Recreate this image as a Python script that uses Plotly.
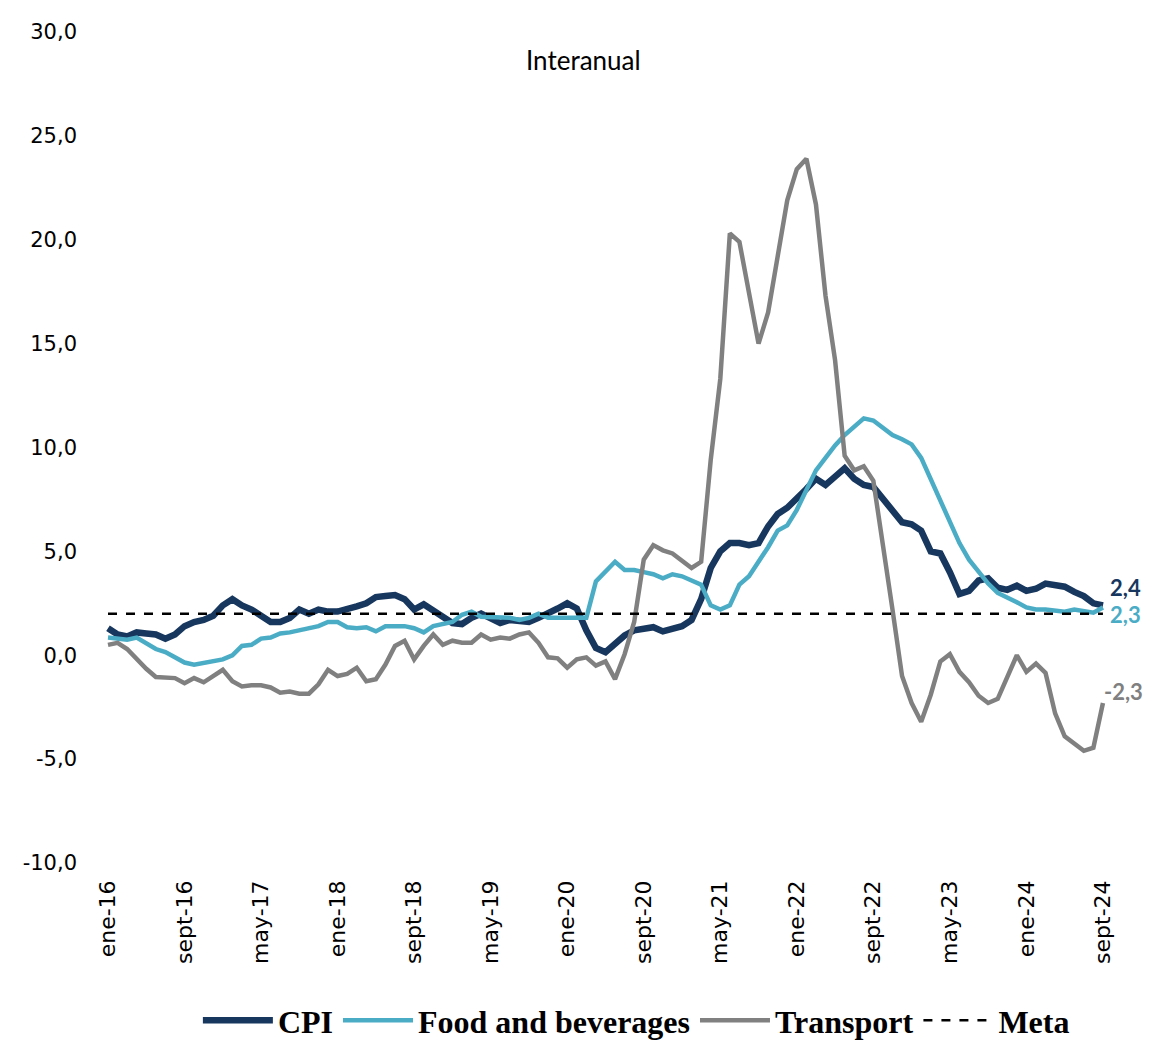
import plotly.graph_objects as go

months_es = ["ene", "feb", "mar", "abr", "may", "jun", "jul", "ago", "sept", "oct", "nov", "dic"]
dates = [f"{months_es[m]}-{str(y)[2:]}" for y in range(2016, 2025) for m in range(12)][:105]

cpi = [1.3, 1.0, 0.9, 1.1, 1.05, 1.0, 0.8, 1.0, 1.4, 1.6, 1.7, 1.9,
       2.4, 2.7, 2.4, 2.2, 1.9, 1.6, 1.6, 1.8, 2.2, 2.0, 2.2, 2.1,
       2.1, 2.2, 2.35, 2.5, 2.8, 2.85, 2.9, 2.7, 2.2, 2.45, 2.15, 1.8,
       1.55, 1.5, 1.8, 2.0, 1.75, 1.55, 1.7, 1.65, 1.6, 1.8, 2.0, 2.25,
       2.5, 2.25, 1.2, 0.35, 0.15, 0.6, 0.95, 1.2, 1.3, 1.35, 1.15, 1.3,
       1.4, 1.7, 2.7, 4.2, 5.0, 5.4, 5.4, 5.3, 5.4, 6.2, 6.8, 7.1,
       7.5, 8.0, 8.5, 8.2, 8.6, 9.0, 8.5, 8.2, 8.1, 7.5, 7.0, 6.4,
       6.3, 6.0, 5.0, 4.9, 4.0, 2.95, 3.1, 3.6, 3.7, 3.25, 3.15, 3.35,
       3.1, 3.2, 3.45, 3.35, 3.3, 3.05, 2.85, 2.5, 2.4]

food = [0.85, 0.8, 0.75, 0.85, 0.6, 0.3, 0.15, -0.1, -0.35, -0.45, -0.35, -0.3,
        -0.2, 0.0, 0.45, 0.5, 0.8, 0.85, 1.05, 1.1, 1.2, 1.3, 1.4, 1.6,
        1.6, 1.35, 1.3, 1.35, 1.15, 1.4, 1.4, 1.4, 1.3, 1.1, 1.4, 1.5,
        1.6, 1.95, 2.1, 1.85, 1.85, 1.8, 1.8, 1.7, 1.8, 2.0, 1.8, 1.8,
        1.8, 1.8, 1.8, 3.55, 4.0, 4.5, 4.1, 4.1, 4.0, 3.9, 3.7, 3.9,
        3.8, 3.6, 3.4, 2.4, 2.2, 2.4, 3.4, 3.8, 4.5, 5.2, 6.0, 6.25,
        7.0, 7.95, 8.9, 9.5, 10.1, 10.6, 11.0, 11.4, 11.3, 10.95, 10.6, 10.4,
        10.15, 9.5, 8.5, 7.4, 6.4, 5.4, 4.6, 4.0, 3.45, 3.0, 2.8, 2.55,
        2.3, 2.2, 2.2, 2.15, 2.1, 2.2, 2.1, 2.05, 2.3]

transport = [0.5, 0.6, 0.3, -0.2, -0.65, -1.05, -1.1, -1.1, -1.35, -1.1, -1.3, -1.0,
             -0.7, -1.25, -1.5, -1.45, -1.45, -1.55, -1.8, -1.75, -1.85, -1.85, -1.4, -0.7,
             -1.0, -0.9, -0.6, -1.25, -1.15, -0.45, 0.45, 0.7, -0.2, 0.45, 1.0, 0.5,
             0.7, 0.6, 0.6, 1.0, 0.75, 0.85, 0.8, 1.0, 1.1, 0.6, -0.1, -0.15,
             -0.6, -0.2, -0.1, -0.5, -0.3, -1.15, 0.05, 1.6, 4.6, 5.3, 5.05, 4.9,
             4.55, 4.2, 4.5, 9.4, 13.3, 20.3, 19.9, 17.3, 15.0, 16.5, 19.3, 21.9,
             23.4, 23.9, 21.7, 17.3, 14.2, 9.6, 8.9, 9.1, 8.4, 5.4, 2.2, -1.0,
             -2.3, -3.2, -1.9, -0.3, 0.05, -0.8, -1.3, -1.95, -2.3, -2.1, -1.0, 0.0,
             -0.8, -0.4, -0.85, -2.8, -3.9, -4.25, -4.6, -4.45, -2.3]

meta = [2.0] * 105

y_ticks = [-10, -5, 0, 5, 10, 15, 20, 25, 30]


def fmt(v):
    return f"{v:.1f}".replace(".", ",")


tick_idx = list(range(0, 105, 8))
tick_text = [dates[i] for i in tick_idx]
x = list(range(105))

C_CPI = "#17375E"
C_FOOD = "#4BACC6"
C_TR = "#808080"

fig = go.Figure()
fig.add_trace(go.Scatter(x=x, y=cpi, name="CPI", mode="lines",
                         line=dict(color=C_CPI, width=6.5)))
fig.add_trace(go.Scatter(x=x, y=food, name="Food and beverages", mode="lines",
                         line=dict(color=C_FOOD, width=4.5)))
fig.add_trace(go.Scatter(x=x, y=transport, name="Transport", mode="lines",
                         line=dict(color=C_TR, width=4.5)))
fig.add_trace(go.Scatter(x=x, y=meta, name="Meta", mode="lines",
                         line=dict(color="black", width=2.5, dash="dash")))

tick_font = "DejaVu Sans, sans-serif"
lab_font = "Lato, sans-serif"
fig.add_annotation(x=x[-1], y=cpi[-1], text=f"<b>{fmt(cpi[-1])}</b>", showarrow=False,
                   xanchor="left", yanchor="middle", xshift=5, yshift=18,
                   font=dict(family=lab_font, size=22, color=C_CPI))
fig.add_annotation(x=x[-1], y=food[-1], text=f"<b>{fmt(food[-1])}</b>", showarrow=False,
                   xanchor="left", yanchor="middle", xshift=5, yshift=-7,
                   font=dict(family=lab_font, size=22, color=C_FOOD))
fig.add_annotation(x=x[-1], y=transport[-1], text=f"<b>{fmt(transport[-1])}</b>", showarrow=False,
                   xanchor="left", yanchor="middle", xshift=-1, yshift=12,
                   font=dict(family=lab_font, size=22, color=C_TR))
fig.add_annotation(xref="paper", yref="paper", x=0.477, y=0.966, text="Interanual",
                   showarrow=False, xanchor="center", yanchor="middle",
                   font=dict(family=lab_font, size=26, color="black"))

fig.update_layout(
    width=1153, height=1048,
    margin=dict(l=92, r=48, t=19, b=193),
    plot_bgcolor="white", paper_bgcolor="white",
    showlegend=True,
    legend=dict(orientation="h", xref="container", yref="container",
                x=0.545, y=0.034, xanchor="center", yanchor="middle",
                font=dict(family="Liberation Serif, serif", size=32, color="black", weight="bold"),
                itemwidth=70, tracegroupgap=0),
    xaxis=dict(range=[-0.836, 105.05], tickmode="array", tickvals=tick_idx, ticktext=tick_text,
               tickangle=-90, showgrid=False, zeroline=False, showline=False, ticks="",
               tickfont=dict(family=tick_font, size=22, color="black"), ticklabelstandoff=12),
    yaxis=dict(range=[-10, 30], tickmode="array", tickvals=y_ticks,
               ticktext=[fmt(v) for v in y_ticks], showgrid=False, zeroline=False,
               showline=False, ticks="", ticklabelstandoff=22,
               tickfont=dict(family=tick_font, size=21, color="black")),
)

fig.write_html("out.html")
